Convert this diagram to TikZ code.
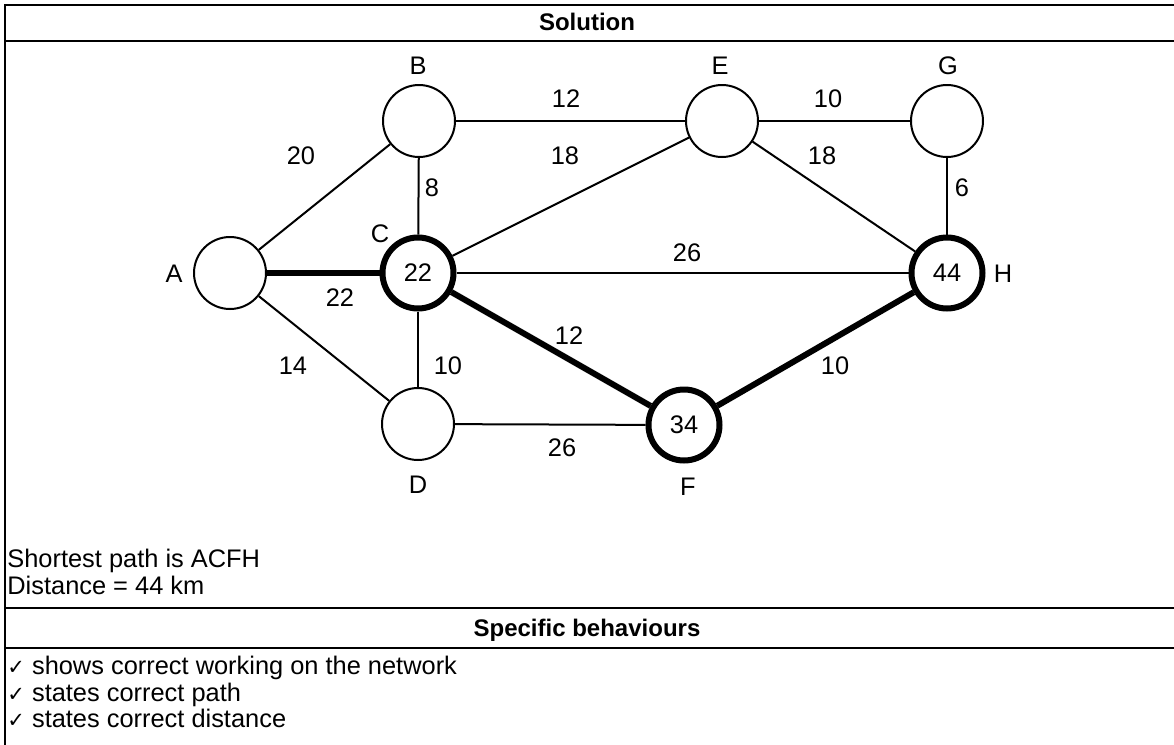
\documentclass[tikz,border=0pt]{standalone}
\usepackage{fontspec}
\setmainfont{Liberation Sans}
\newfontfamily\symfont{DejaVu Sans}
\newcommand\tickmark{{\symfont\fontsize{10.5}{12}\selectfont ✓}}
\begin{document}
\begin{tikzpicture}[x=0.5pt,y=-0.5pt,
  every node/.style={font=\fontsize{12.7}{14}\selectfont, inner sep=0pt},
  vertex/.style={circle, draw, line width=1pt, minimum size=36pt},
  pathvertex/.style={circle, draw, line width=3pt, minimum size=35.5pt},
  edge/.style={line width=1pt},
  pathedge/.style={line width=3pt},
  rule/.style={line width=1pt},
  head/.style={font=\fontsize{12}{13.5}\selectfont\bfseries, anchor=base},
  textline/.style={anchor=base west}]
\useasboundingbox (0,0) rectangle (1174,745);

% table frame
\coordinate (tl) at (5,5);
\coordinate (tr) at (1174,5);
\coordinate (bl) at (5,745);
\draw[rule] (tr) -- (tl) -- (bl);
\coordinate (r1l) at (5,41);   \coordinate (r1r) at (1174,41);
\coordinate (r2l) at (5,608);  \coordinate (r2r) at (1174,608);
\coordinate (r3l) at (5,648);  \coordinate (r3r) at (1174,648);
\draw[rule] (r1l) -- (r1r);
\draw[rule] (r2l) -- (r2r);
\draw[rule] (r3l) -- (r3r);

% headings
\node[head] (sol) at (587,30) {Solution};
\node[head] (spec) at (587,636) {Specific behaviours};

% network vertices
\node[vertex] (A) at (230,273) {};
\node[vertex] (B) at (419,121) {};
\node[pathvertex] (C) at (418,273) {22};
\node[vertex] (D) at (418,424) {};
\node[vertex] (E) at (722,121) {};
\node[pathvertex] (F) at (684,425) {34};
\node[vertex] (G) at (947,121) {};
\node[pathvertex] (H) at (947,273) {44};

% vertex names
\node (nA) at (174,274) {A};
\node (nB) at (418,66) {B};
\node (nC) at (380,234) {C};
\node (nD) at (418,485) {D};
\node (nE) at (720,66) {E};
\node (nF) at (688,487) {F};
\node (nG) at (948,66) {G};
\node (nH) at (1003,274) {H};

% edges
\draw[edge] (A) -- (B);
\draw[edge] (A) -- (D);
\draw[edge] (B) -- (C);
\draw[edge] (B) -- (E);
\draw[edge] (C) -- (E);
\draw[edge] (C) -- (H);
\draw[edge] (C) -- (D);
\draw[edge] (D) -- (F);
\draw[edge] (E) -- (G);
\draw[edge] (E) -- (H);
\draw[edge] (G) -- (H);
\draw[pathedge] (A) -- (C);
\draw[pathedge] (C) -- (F);
\draw[pathedge] (F) -- (H);

% edge weights
\node (wAB) at (301,156) {20};
\node (wBC) at (432,188) {8};
\node (wBE) at (566,99) {12};
\node (wCE) at (565,156) {18};
\node (wEG) at (828,99) {10};
\node (wEH) at (822,156) {18};
\node (wGH) at (962,188) {6};
\node (wCH) at (687,253) {26};
\node (wAC) at (340,298) {22};
\node (wAD) at (293,366) {14};
\node (wCD) at (448,366) {10};
\node (wCF) at (569,336) {12};
\node (wFH) at (835,366) {10};
\node (wDF) at (562,448) {26};

% answer
\node[textline] (ans1) at (7,567) {Shortest path is ACFH};
\node[textline] (ans2) at (7,594) {Distance = 44 km};

% marking criteria
\node[textline] (m1) at (7,674) {\tickmark\ shows correct working on the network};
\node[textline] (m2) at (7,701) {\tickmark\ states correct path};
\node[textline] (m3) at (7,727) {\tickmark\ states correct distance};
\end{tikzpicture}
\end{document}
